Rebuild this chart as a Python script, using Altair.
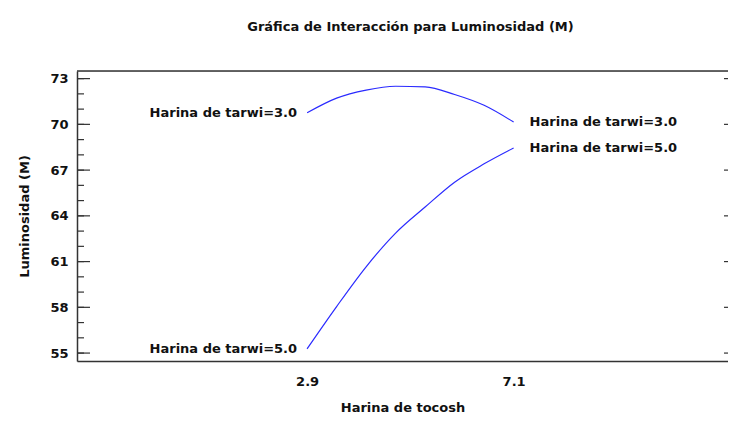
import altair as alt
import pandas as pd

# ---- data ----
tocosh = [2.9, 3.5, 4.1, 4.7, 5.3, 5.9, 6.5, 7.1]
tarwi_3 = [70.76, 71.72, 72.25, 72.50, 72.46, 71.96, 71.25, 70.15]
tarwi_5 = [55.28, 58.05, 60.66, 62.87, 64.58, 66.21, 67.41, 68.45]
series_names = ["Harina de tarwi=3.0", "Harina de tarwi=5.0"]
y_major = [55, 58, 61, 64, 67, 70, 73]
y_minor = [v for v in range(55, 74)]
x_ticks = [2.9, 7.1]

title = "Gráfica de Interacción para Luminosidad (M)"
x_title = "Harina de tocosh"
y_title = "Luminosidad (M)"

W, H = 651, 290
FONT = "DejaVu Sans"
FS = 13
INK = "#111111"
FRAME = "#333333"
BLUE = "#2a2aff"

rows = []
for name, vals in zip(series_names, [tarwi_3, tarwi_5]):
    for x, y in zip(tocosh, vals):
        rows.append({"serie": name, "x": x, "y": y})
df = pd.DataFrame(rows)

left_lab = pd.DataFrame({"serie": series_names,
                         "x": [tocosh[0]] * 2,
                         "y": [tarwi_3[0], tarwi_5[0]]})
right_lab = pd.DataFrame({"serie": series_names,
                          "x": [tocosh[-1]] * 2,
                          "y": [tarwi_3[-1], tarwi_5[-1]]})
major_df = pd.DataFrame({"y": y_major})
minor_df = pd.DataFrame({"y": y_minor})

xscale = alt.Scale(domain=[-1.78, 11.46], nice=False, zero=False)
yscale = alt.Scale(domain=[54.48, 73.5], nice=False, zero=False)

xenc = alt.X("x:Q", scale=xscale, axis=alt.Axis(
    values=x_ticks, title=x_title, grid=False, ticks=False, tickSize=0,
    domain=True, domainColor=FRAME, domainWidth=1.5,
    labelFont=FONT, labelFontSize=FS, labelFontWeight="bold", labelColor=INK,
    labelPadding=14, format=".1f",
    titleFont=FONT, titleFontSize=FS, titleFontWeight="bold", titleColor=INK,
    titlePadding=13))
yenc = alt.Y("y:Q", scale=yscale, axis=alt.Axis(
    values=y_major, title=y_title, grid=False, ticks=False, tickSize=0,
    domain=True, domainColor=FRAME, domainWidth=1.5,
    labelFont=FONT, labelFontSize=FS, labelFontWeight="bold", labelColor=INK,
    labelPadding=9,
    titleFont=FONT, titleFontSize=FS, titleFontWeight="bold", titleColor=INK,
    titlePadding=18))

lines = alt.Chart(df).mark_line(color=BLUE, strokeWidth=1.2, interpolate="monotone").encode(
    x=xenc, y=yenc, detail="serie:N")

lab_l = alt.Chart(left_lab).mark_text(
    align="right", baseline="middle", dx=-10, font=FONT, fontSize=FS,
    fontWeight="bold", color=INK).encode(
    x=alt.X("x:Q", scale=xscale), y=alt.Y("y:Q", scale=yscale), text="serie:N")

lab_r = alt.Chart(right_lab).mark_text(
    align="left", baseline="middle", dx=16, font=FONT, fontSize=FS,
    fontWeight="bold", color=INK).encode(
    x=alt.X("x:Q", scale=xscale), y=alt.Y("y:Q", scale=yscale), text="serie:N")

maj_ticks = alt.Chart(major_df).mark_rule(color=FRAME, strokeWidth=1.2).encode(
    y=alt.Y("y:Q", scale=yscale), x=alt.value(0), x2=alt.value(13))
min_ticks = alt.Chart(minor_df).mark_rule(color=FRAME, strokeWidth=1.2).encode(
    y=alt.Y("y:Q", scale=yscale), x=alt.value(0), x2=alt.value(7))
right_ticks = alt.Chart(major_df).mark_rule(color=FRAME, strokeWidth=1.2).encode(
    y=alt.Y("y:Q", scale=yscale), x=alt.value(W - 4), x2=alt.value(W))
top_line = alt.Chart(major_df.head(1)).mark_rule(color=FRAME, strokeWidth=1.5).encode(
    y=alt.value(0), x=alt.value(0), x2=alt.value(W))

chart = alt.layer(
    min_ticks, maj_ticks, right_ticks, top_line, lines, lab_l, lab_r
).properties(
    width=W, height=H,
    title=alt.TitleParams(title, font=FONT, fontSize=FS, fontWeight="bold",
                          color=INK, anchor="middle", offset=36, dx=8),
    padding={"left": 69, "top": 63, "right": 0, "bottom": 53},
    autosize=alt.AutoSizeParams(type="none"),
).configure_view(stroke=None).configure(background="white")

chart.save("out.html", embed_options={"renderer": "svg", "actions": False})
